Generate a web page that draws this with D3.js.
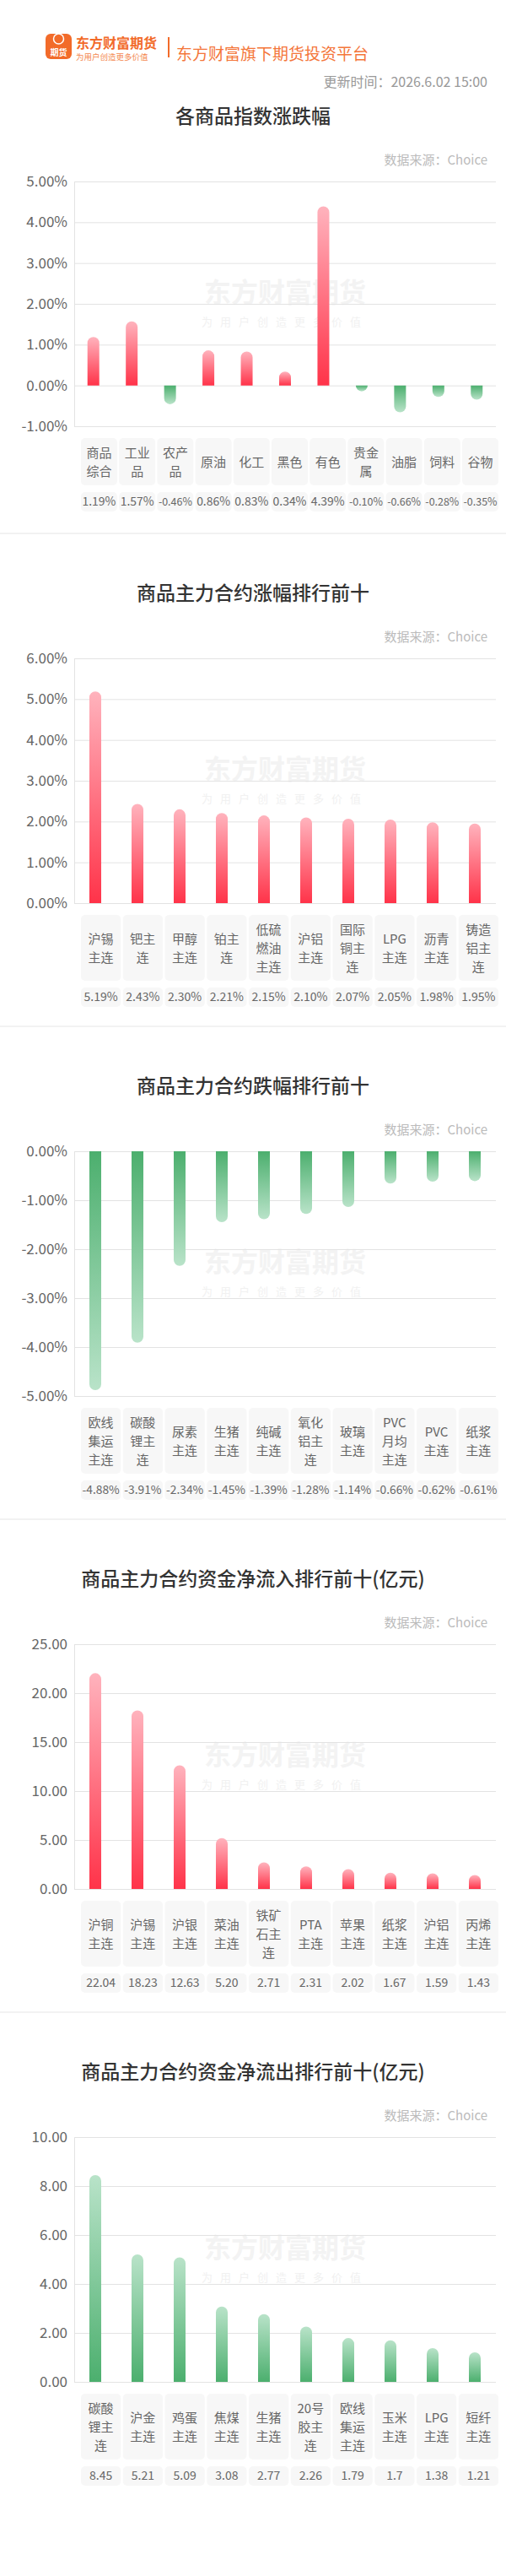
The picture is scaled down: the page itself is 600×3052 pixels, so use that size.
<!DOCTYPE html>
<html><head><meta charset="utf-8">
<script src="https://cdn.jsdelivr.net/npm/d3@7"></script>
<style>body{margin:0;background:#fff}svg{display:block}text{font-family:"Noto Sans CJK SC","Noto Sans",sans-serif}</style>
</head><body><svg id="c" width="600" height="3052"></svg>
<script>
const titles=["各商品指数涨跌幅","商品主力合约涨幅排行前十","商品主力合约跌幅排行前十","商品主力合约资金净流入排行前十(亿元)","商品主力合约资金净流出排行前十(亿元)"];
const cats1=["商品综合","工业品","农产品","原油","化工","黑色","有色","贵金属","油脂","饲料","谷物"];
const vals1=[1.19,1.57,-0.46,0.86,0.83,0.34,4.39,-0.10,-0.66,-0.28,-0.35];
const cats2=["沪锡主连","钯主连","甲醇主连","铂主连","低硫燃油主连","沪铝主连","国际铜主连","LPG主连","沥青主连","铸造铝主连"];
const vals2=[5.19,2.43,2.30,2.21,2.15,2.10,2.07,2.05,1.98,1.95];
const cats3=["欧线集运主连","碳酸锂主连","尿素主连","生猪主连","纯碱主连","氧化铝主连","玻璃主连","PVC月均主连","PVC主连","纸浆主连"];
const vals3=[-4.88,-3.91,-2.34,-1.45,-1.39,-1.28,-1.14,-0.66,-0.62,-0.61];
const cats4=["沪铜主连","沪锡主连","沪银主连","菜油主连","铁矿石主连","PTA主连","苹果主连","纸浆主连","沪铝主连","丙烯主连"];
const vals4=[22.04,18.23,12.63,5.20,2.71,2.31,2.02,1.67,1.59,1.43];
const cats5=["碳酸锂主连","沪金主连","鸡蛋主连","焦煤主连","生猪主连","20号胶主连","欧线集运主连","玉米主连","LPG主连","短纤主连"];
const vals5=[8.45,5.21,5.09,3.08,2.77,2.26,1.79,1.7,1.38,1.21];
const ticks1=[5,4,3,2,1,0,-1], ticks2=[6,5,4,3,2,1,0], ticks3=[0,-1,-2,-3,-4,-5], ticks4=[25,20,15,10,5,0], ticks5=[10,8,6,4,2,0];
const labels1=vals1.map(v=>v.toFixed(2)+"%"), labels2=vals2.map(v=>v.toFixed(2)+"%"), labels3=vals3.map(v=>v.toFixed(2)+"%");
const labels4=vals4.map(v=>v.toFixed(2)), labels5=["8.45","5.21","5.09","3.08","2.77","2.26","1.79","1.7","1.38","1.21"];

const svg=d3.select("#c");
const defs=svg.append("defs");
function grad(id,c1,c2,y1,y2){const g=defs.append("linearGradient").attr("id",id).attr("x1",0).attr("y1",y1).attr("x2",0).attr("y2",y2);
 g.append("stop").attr("offset",0).attr("stop-color",c1);g.append("stop").attr("offset",1).attr("stop-color",c2);}
grad("redUp","#ff3349","#ffb3bd",1,0);
grad("greenDown","#4caf6e","#b9e3c9",0,1);
grad("greenUp","#4caf6e","#b9e3c9",1,0);

const hd=svg.append("g");
hd.append("rect").attr("x",54).attr("y",40).attr("width",31).attr("height",30).attr("rx",6).attr("fill","#f26b2a");
hd.append("circle").attr("cx",69.5).attr("cy",46).attr("r",6).attr("fill","none").attr("stroke","#fff").attr("stroke-width",1.5);
hd.append("text").attr("x",69.5).attr("y",66).attr("text-anchor","middle").attr("font-size",10).attr("font-weight","bold").attr("fill","#fff").text("期货");
hd.append("text").attr("x",90).attr("y",57).attr("font-size",16).attr("font-weight","bold").attr("fill","#f26b2a").text("东方财富期货");
hd.append("text").attr("x",90).attr("y",71).attr("font-size",9.5).attr("fill","#f4884f").text("为用户创造更多价值");
hd.append("rect").attr("x",199).attr("y",44).attr("width",2).attr("height",24).attr("fill","#f26b2a");
hd.append("text").attr("x",209).attr("y",71).attr("font-size",19).attr("fill","#f4763a").text("东方财富旗下期货投资平台");
hd.append("text").attr("x",578).attr("y",103).attr("text-anchor","end").attr("font-size",16).attr("fill","#999").text("更新时间：2026.6.02 15:00");

const ctx=document.createElement("canvas").getContext("2d");
function wrap(s){ctx.font='15px "Noto Sans CJK SC"';const lines=[];let cur="";
 for(const ch of s){const isA=/[A-Za-z0-9]/.test(ch);const prevA=cur.length&&/[A-Za-z0-9]/.test(cur[cur.length-1]);
  if(cur&&ctx.measureText(cur+ch).width>33&&!(isA&&prevA)){lines.push(cur);cur=ch;}else cur+=ch;}
 if(cur)lines.push(cur);return lines;}

const charts=[
 {S:67,cats:cats1,vals:vals1,ticks:ticks1,labels:labels1,fmt:d=>d.toFixed(2)+"%",dom:[-1,5]},
 {S:632,cats:cats2,vals:vals2,ticks:ticks2,labels:labels2,fmt:d=>d.toFixed(2)+"%",dom:[0,6]},
 {S:1216,cats:cats3,vals:vals3,ticks:ticks3,labels:labels3,fmt:d=>d.toFixed(2)+"%",dom:[-5,0]},
 {S:1800,cats:cats4,vals:vals4,ticks:ticks4,labels:labels4,fmt:d=>d.toFixed(2),dom:[0,25],green:false},
 {S:2384,cats:cats5,vals:vals5,ticks:ticks5,labels:labels5,fmt:d=>d.toFixed(2),dom:[0,10],green:true}
];
charts.forEach((c,ci)=>{
 const g=svg.append("g");const S=c.S;
 if(ci>0)g.append("rect").attr("x",0).attr("y",S-1).attr("width",600).attr("height",2).attr("fill","#f2f2f2");
 g.append("text").attr("x",300).attr("y",S+79).attr("text-anchor","middle").attr("font-size",23).attr("font-weight",500).attr("fill","#333").text(titles[ci]);
 g.append("text").attr("x",578).attr("y",S+128).attr("text-anchor","end").attr("font-size",15).attr("fill","#bbb").text("数据来源：Choice");
 const top=S+148,bot=S+438;
 const y=d3.scaleLinear().domain(c.dom).range([bot,top]);
 const x=d3.scaleBand().domain(c.cats).range([88,588]);
 const xb=d3.scaleBand().domain(c.cats).range([96,591]).paddingInner(0.05).paddingOuter(0);
 const wy=top+(bot-top)*0.45;
 g.append("text").attr("x",338).attr("y",wy+12).attr("text-anchor","middle").attr("font-size",32).attr("font-weight","bold").attr("fill","#f3f3f3").text("东方财富期货");
 g.append("text").attr("x",338).attr("y",wy+40).attr("text-anchor","middle").attr("font-size",13).attr("letter-spacing",9).attr("fill","#f1f1f1").text("为用户创造更多价值");
 const ax=g.append("g").attr("transform","translate(88,0)").call(d3.axisLeft(y).tickValues(c.ticks).tickFormat(c.fmt).tickSize(-500).tickPadding(8));
 ax.select(".domain").attr("stroke","#e3e3e3");
 ax.selectAll(".tick line").attr("stroke","#e3e3e3");
 ax.selectAll(".tick text").attr("font-size",17).attr("fill","#666").attr("font-family",'"Noto Sans CJK SC",sans-serif');
 const bw=14,r=7;
 c.cats.forEach((k,i)=>{
  const v=c.vals[i],cx=x(k)+x.bandwidth()/2,y0=y(0),y1=y(v);
  const h=Math.abs(y1-y0);const rr=Math.min(r,h);
  let p;
  if(v>=0) p=`M${cx-bw/2},${y0}V${y1+rr}A${rr},${rr} 0 0 1 ${cx+bw/2},${y1+rr}V${y0}Z`;
  else p=`M${cx-bw/2},${y0}V${y1-rr}A${rr},${rr} 0 0 0 ${cx+bw/2},${y1-rr}V${y0}Z`;
  const fill=v<0?"url(#greenDown)":(c.green?"url(#greenUp)":"url(#redUp)");
  g.append("path").attr("d",p).attr("fill",fill);
 });
 const wrapped=c.cats.map(wrap);const nl=d3.max(wrapped,w=>w.length);
 const bh=nl*22+12,by=bot+14;
 c.cats.forEach((k,i)=>{
  const bx=xb(k),w=xb.bandwidth(),cx=bx+w/2;
  g.append("rect").attr("x",bx).attr("y",by).attr("width",w).attr("height",bh).attr("rx",5).attr("fill","#f7f7f7");
  const lines=wrapped[i];const sy=by+bh/2-(lines.length*22)/2;
  lines.forEach((l,j)=>g.append("text").attr("x",cx).attr("y",sy+j*22+17).attr("text-anchor","middle").attr("font-size",15).attr("fill","#666").text(l));
  const vy=by+bh+8;
  g.append("rect").attr("x",bx).attr("y",vy).attr("width",w).attr("height",23).attr("rx",5).attr("fill","#f7f7f7");
  ctx.font='14px "Noto Sans CJK SC"';const tw=ctx.measureText(c.labels[i]).width;const fs=Math.min(14,14*(w-3)/tw);
  g.append("text").attr("x",cx).attr("y",vy+11.5).attr("dy","0.35em").attr("text-anchor","middle").attr("font-size",fs).attr("fill","#666").text(c.labels[i]);
 });
});
</script></body></html>
